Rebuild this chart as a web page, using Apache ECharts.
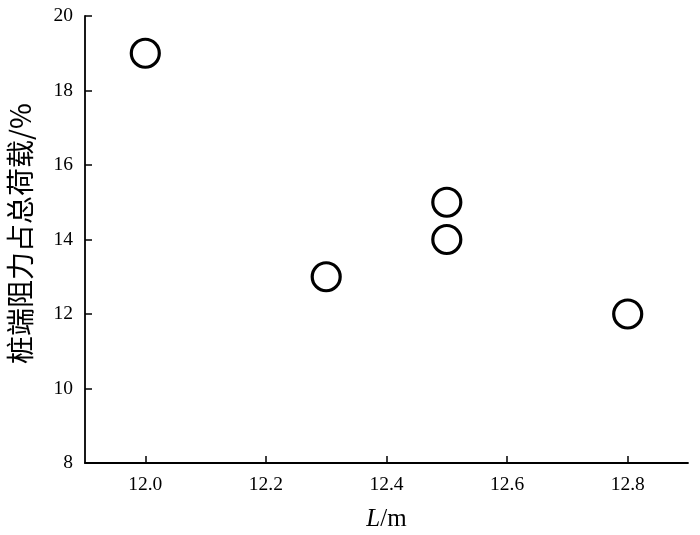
<!DOCTYPE html>
<html><head><meta charset="utf-8">
<script src="https://cdn.jsdelivr.net/npm/echarts@6/dist/echarts.min.js"></script>
<style>html,body{margin:0;padding:0;background:#fff}#c{width:700px;height:535px}</style>
</head><body><div id="c"></div>
<script>
const xValues = [12.0, 12.3, 12.5, 12.5, 12.8];
const yValues = [19, 13, 15, 14, 12];
const xTicks = [12.0, 12.2, 12.4, 12.6, 12.8];
const yTicks = [8, 10, 12, 14, 16, 18, 20];
const xTitle = 'L/m';
const yTitle = '桩端阻力占总荷载/%';

const chart = echarts.init(document.getElementById('c'));
const serif = '"Liberation Serif","DejaVu Serif",serif';
chart.setOption({
  animation: false,
  grid: {left: 85, right: 12, top: 16, bottom: 72, outerBoundsMode: 'none', containLabel: false},
  xAxis: {
    type: 'value', min: 11.9, max: 12.9,
    splitLine: {show: false},
    axisLine: {lineStyle: {color: '#000', width: 1.8}},
    axisTick: {inside: true, length: 7, customValues: xTicks, lineStyle: {color: '#000', width: 1.5}},
    axisLabel: {customValues: xTicks, formatter: v => v.toFixed(1), color: '#000', fontFamily: serif, fontSize: 19.5, margin: 12},
    name: '{i|L}{n|/m}', nameLocation: 'middle', nameGap: 44,
    nameTextStyle: {rich: {i: {fontFamily: serif, fontStyle: 'italic', fontSize: 25, color: '#000'}, n: {fontFamily: serif, fontSize: 25, color: '#000'}}}
  },
  yAxis: {
    type: 'value', min: 8, max: 20, interval: 2,
    splitLine: {show: false},
    axisLine: {show: true, lineStyle: {color: '#000', width: 1.8}},
    axisTick: {show: true, inside: true, length: 7, lineStyle: {color: '#000', width: 1.5}},
    axisLabel: {color: '#000', fontFamily: serif, fontSize: 19.5, margin: 12},
    name: yTitle, nameLocation: 'middle', nameGap: 51, nameRotate: 90,
    nameTextStyle: {fontFamily: '"Noto Sans CJK SC", serif', fontSize: 28, color: '#000', padding: [0, 0, 0, 12]}
  },
  series: [{
    type: 'scatter',
    data: xValues.map((x, i) => [x, yValues[i]]),
    symbol: 'circle', symbolSize: 28,
    itemStyle: {color: '#fff', opacity: 1, borderColor: '#000', borderWidth: 3.2}
  }]
});
</script></body></html>
